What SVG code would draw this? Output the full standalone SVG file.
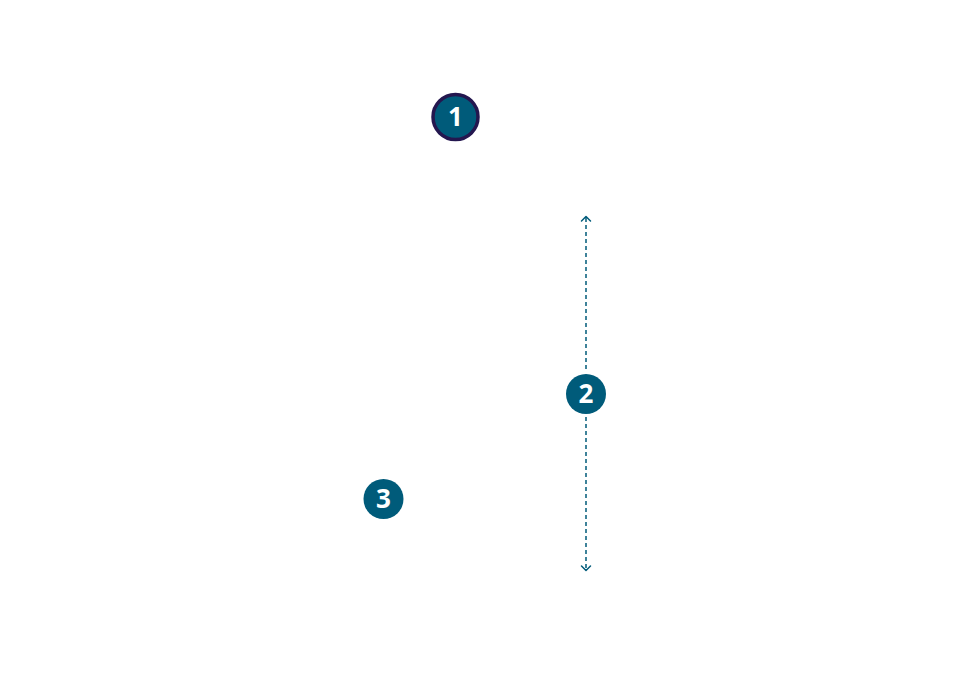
<svg xmlns="http://www.w3.org/2000/svg" width="960" height="700" viewBox="0 0 960 700">
<style>
.badge{fill:#005b7a}
.num{font-family:"Open Sans","Noto Sans",sans-serif;font-weight:700;font-size:26px;fill:#ffffff;text-anchor:middle}
.dash{stroke:#005b7a;stroke-width:1.5;stroke-dasharray:4 3;fill:none}
.head{stroke:#005b7a;stroke-width:1.5;fill:none;stroke-linecap:round;stroke-linejoin:round}
</style>
<rect width="960" height="700" fill="#ffffff"/>
<g id="connectors">
<line class="dash" x1="586" y1="218" x2="586" y2="372"/>
<line class="dash" x1="586" y1="417" x2="586" y2="569"/>
<polyline class="head" points="581.5,221 586,216.5 590.5,221"/>
<polyline class="head" points="581.5,566 586,570.5 590.5,566"/>
</g>
<g id="node1">
<circle cx="455.5" cy="117" r="22.5" class="badge" stroke="#24174f" stroke-width="3.5"/>
<text class="num" x="455.5" y="126">1</text>
</g>
<g id="node2">
<circle cx="586" cy="394" r="20" class="badge"/>
<text class="num" x="586" y="403">2</text>
</g>
<g id="node3">
<circle cx="383.5" cy="499" r="20" class="badge"/>
<text class="num" x="383.5" y="508">3</text>
</g>
</svg>
